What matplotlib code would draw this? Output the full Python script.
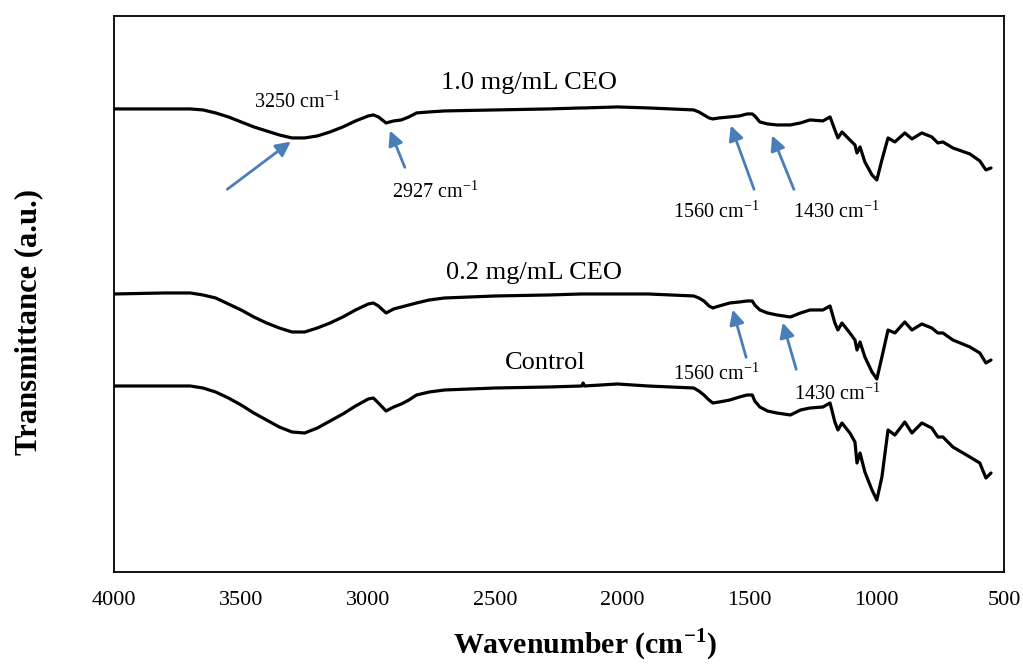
import matplotlib
matplotlib.use("Agg")
import matplotlib.pyplot as plt

plt.rcParams['font.family'] = ['Liberation Serif', 'DejaVu Serif']
plt.rcParams['mathtext.fontset'] = 'custom'
plt.rcParams['mathtext.rm'] = 'Liberation Serif'
plt.rcParams['mathtext.bf'] = 'Liberation Serif:bold'

# FTIR spectra (wavenumber in cm-1, transmittance in a.u.)
wavenumber = [4000, 3800, 3700, 3650, 3600, 3550, 3500, 3450, 3400, 3350,
              3300, 3250, 3200, 3150, 3100, 3050, 3000, 2980, 2960, 2930,
              2900, 2870, 2840, 2810, 2760, 2700, 2500, 2290, 2160, 2155,
              2150, 2020, 1900, 1720, 1700, 1680, 1660, 1645, 1620, 1578,
              1540, 1510, 1490, 1480, 1460, 1430, 1393, 1340, 1300, 1263,
              1212, 1184, 1165, 1153, 1137, 1106, 1086, 1078, 1066, 1047,
              1019, 1000, 980, 956, 929, 890, 862, 823, 784, 760,
              740, 701, 634, 595, 571, 551]

ceo_10 = [463, 463, 463, 462, 459, 455, 450, 445, 441, 437,
          434, 434, 436, 440, 445, 451, 456, 457, 455, 449,
          451, 452, 455, 459, 460, 461, 462, 463, 464, 464,
          464, 465, 464, 462, 460, 457, 454, 453, 454, 455,
          456, 458, 458, 456, 450, 448, 447, 447, 449, 452,
          451, 455, 442, 434, 440, 432, 427, 419, 425, 410,
          397, 392, 412, 434, 430, 439, 433, 439, 435, 429,
          430, 424, 418, 411, 402, 404]

ceo_02 = [278, 279, 279, 277, 274, 268, 262, 255, 249, 244,
          240, 240, 244, 249, 255, 262, 268, 269, 266, 259,
          263, 265, 267, 269, 272, 274, 276, 277, 278, 278,
          278, 278, 278, 276, 274, 271, 266, 264, 266, 269,
          270, 271, 271, 267, 262, 259, 257, 255, 259, 262,
          262, 266, 249, 242, 249, 239, 232, 222, 230, 215,
          200, 193, 215, 242, 239, 250, 242, 248, 244, 239,
          239, 232, 225, 219, 209, 212]

control = [186, 186, 186, 184, 180, 174, 167, 159, 152, 145,
           140, 139, 144, 151, 158, 166, 173, 174, 169, 161,
           165, 168, 172, 177, 180, 182, 184, 185, 186, 189,
           186, 188, 186, 184, 181, 177, 172, 169, 170, 172,
           175, 177, 177, 171, 165, 161, 159, 157, 162, 164,
           165, 169, 150, 142, 149, 139, 130, 109, 119, 100,
           82, 72, 95, 142, 137, 150, 139, 149, 144, 135,
           135, 125, 115, 109, 94, 99]

# curve labels: text, wavenumber, a.u.
curve_labels = [('1.0 mg/mL CEO', 2366, 489),
                ('0.2 mg/mL CEO', 2348, 299),
                ('Control', 2305, 209)]

# peak arrows: text, text position, arrow tip, arrow tail
peak_labels = ['3250', '2927', '1560', '1430', '1560', '1430']
peak_text_pos = [(3280, 470), (2738, 380), (1633, 360), (1161, 360), (1633, 198), (1157, 178)]
peak_tips = [(3296, 432), (2919, 444), (1578, 449), (1416, 439), (1570, 265), (1373, 252)]
peak_tails = [(3563, 381), (2852, 402), (1479, 380), (1322, 380), (1511, 212), (1314, 200)]

fig = plt.figure(figsize=(10.23, 6.66), dpi=100)
ax = fig.add_axes([0.1114, 0.1411, 0.870, 0.835])

for series in [ceo_10, ceo_02, control]:
    ax.plot(wavenumber, series, color='black', lw=2.3,
            solid_joinstyle='round', solid_capstyle='round')

ax.set_xlim(4000, 500)
ax.set_ylim(0, 556)
ax.set_xticks([4000, 3500, 3000, 2500, 2000, 1500, 1000, 500])
ax.set_yticks([])
ax.tick_params(axis='x', length=0, pad=14, labelsize=16)
for sp in ax.spines.values():
    sp.set_linewidth(1.3)

for txt, x, y in curve_labels:
    ax.text(x, y, txt, fontsize=19, ha='center', va='center')

for lab, pos, tip, tail in zip(peak_labels, peak_text_pos, peak_tips, peak_tails):
    ax.text(pos[0], pos[1], lab + r' cm$^{\mathregular{-1}}$', fontsize=14.5, ha='center', va='center')
    ax.annotate('', xy=tip, xytext=tail,
                arrowprops=dict(arrowstyle='-|>', color='#4a7ebb', lw=2, mutation_scale=22))

ax.set_xlabel(r'Wavenumber (cm$^{\mathbf{-1}}$)', fontsize=21.5, fontweight='bold')
ax.set_ylabel('Transmittance (a.u.)', fontsize=22, fontweight='bold')
ax.xaxis.set_label_coords(0.529, -0.098)
ax.yaxis.set_label_coords(-0.080, 0.45)

fig.savefig('out.png', dpi=100)
